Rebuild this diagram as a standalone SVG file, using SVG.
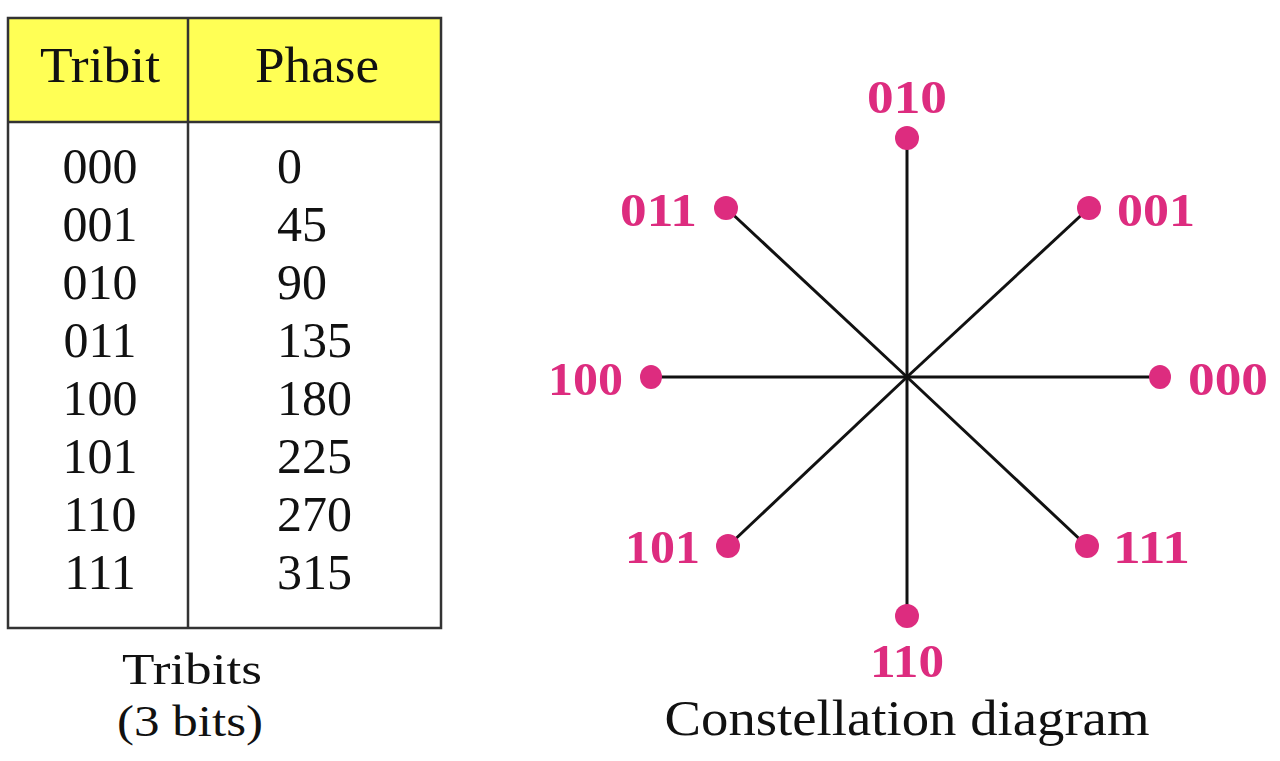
<svg xmlns="http://www.w3.org/2000/svg" width="1280" height="761" viewBox="0 0 1280 761">
<style>
.t{font-family:"Liberation Serif","Times New Roman",serif;font-size:50px;fill:#111}
.c{font-family:"Liberation Serif","Times New Roman",serif;font-size:45px;fill:#111}
.m{font-family:"Liberation Serif","Times New Roman",serif;font-size:47px;font-weight:bold;fill:#DD2C7F}
.ln{stroke:#111;stroke-width:3;fill:none}
.dot{fill:#DD2C7F}
.tb{stroke:#333;stroke-width:2.5;fill:none}
</style>
<rect width="1280" height="761" fill="#fff"/>
<g id="table">
<rect x="8" y="18" width="433" height="104" fill="#FFFF55"/>
<rect class="tb" x="8" y="18" width="433" height="610"/>
<line class="tb" x1="8" y1="122" x2="441" y2="122" stroke-width="3"/>
<line class="tb" x1="188" y1="18" x2="188" y2="628"/>
<text class="t" x="100" y="82" text-anchor="middle" textLength="120" lengthAdjust="spacingAndGlyphs">Tribit</text>
<text class="t" x="317" y="82" text-anchor="middle" textLength="124" lengthAdjust="spacingAndGlyphs">Phase</text>
<g text-anchor="middle">
<text class="t" x="100" y="183">000</text>
<text class="t" x="100" y="241">001</text>
<text class="t" x="100" y="299">010</text>
<text class="t" x="100" y="357">011</text>
<text class="t" x="100" y="415">100</text>
<text class="t" x="100" y="473">101</text>
<text class="t" x="100" y="531">110</text>
<text class="t" x="100" y="589">111</text>
</g>
<text class="t" x="277" y="183">0</text>
<text class="t" x="277" y="241">45</text>
<text class="t" x="277" y="299">90</text>
<text class="t" x="277" y="357">135</text>
<text class="t" x="277" y="415">180</text>
<text class="t" x="277" y="473">225</text>
<text class="t" x="277" y="531">270</text>
<text class="t" x="277" y="589">315</text>
</g>
<g id="caption-table">
<text class="c" x="192" y="684" text-anchor="middle" textLength="140" lengthAdjust="spacingAndGlyphs">Tribits</text>
<text class="c" x="190" y="736" text-anchor="middle" textLength="146" lengthAdjust="spacingAndGlyphs">(3 bits)</text>
</g>
<g id="connectors">
<line class="ln" x1="907" y1="377" x2="907" y2="138"/>
<line class="ln" x1="907" y1="377" x2="907" y2="616"/>
<line class="ln" x1="907" y1="377" x2="1160" y2="377"/>
<line class="ln" x1="907" y1="377" x2="651" y2="377"/>
<line class="ln" x1="907" y1="377" x2="1089" y2="208"/>
<line class="ln" x1="907" y1="377" x2="726" y2="208"/>
<line class="ln" x1="907" y1="377" x2="728" y2="546"/>
<line class="ln" x1="907" y1="377" x2="1087" y2="546"/>
</g>
<g id="p000"><ellipse class="dot" cx="1160" cy="377" rx="11" ry="12"/><text class="m" x="1188" y="395" textLength="80" lengthAdjust="spacingAndGlyphs">000</text></g>
<g id="p001"><ellipse class="dot" cx="1089" cy="208" rx="12" ry="12"/><text class="m" x="1117" y="226" textLength="78" lengthAdjust="spacingAndGlyphs">001</text></g>
<g id="p010"><ellipse class="dot" cx="907" cy="138" rx="12" ry="12"/><text class="m" x="907" y="113" text-anchor="middle" textLength="80" lengthAdjust="spacingAndGlyphs">010</text></g>
<g id="p011"><ellipse class="dot" cx="726" cy="208" rx="12" ry="12"/><text class="m" x="697" y="226" text-anchor="end" textLength="77" lengthAdjust="spacingAndGlyphs">011</text></g>
<g id="p100"><ellipse class="dot" cx="651" cy="377" rx="11" ry="12"/><text class="m" x="623" y="395" text-anchor="end" textLength="75" lengthAdjust="spacingAndGlyphs">100</text></g>
<g id="p101"><ellipse class="dot" cx="728" cy="546" rx="12" ry="12"/><text class="m" x="700" y="563" text-anchor="end" textLength="75" lengthAdjust="spacingAndGlyphs">101</text></g>
<g id="p110"><ellipse class="dot" cx="907" cy="616" rx="12" ry="12"/><text class="m" x="907" y="677" text-anchor="middle" textLength="74" lengthAdjust="spacingAndGlyphs">110</text></g>
<g id="p111"><ellipse class="dot" cx="1087" cy="546" rx="12" ry="12"/><text class="m" x="1113" y="563" textLength="77" lengthAdjust="spacingAndGlyphs">111</text></g>
<g id="caption-constellation">
<text class="t" x="907" y="735" text-anchor="middle" textLength="485" lengthAdjust="spacingAndGlyphs">Constellation diagram</text>
</g>
</svg>
